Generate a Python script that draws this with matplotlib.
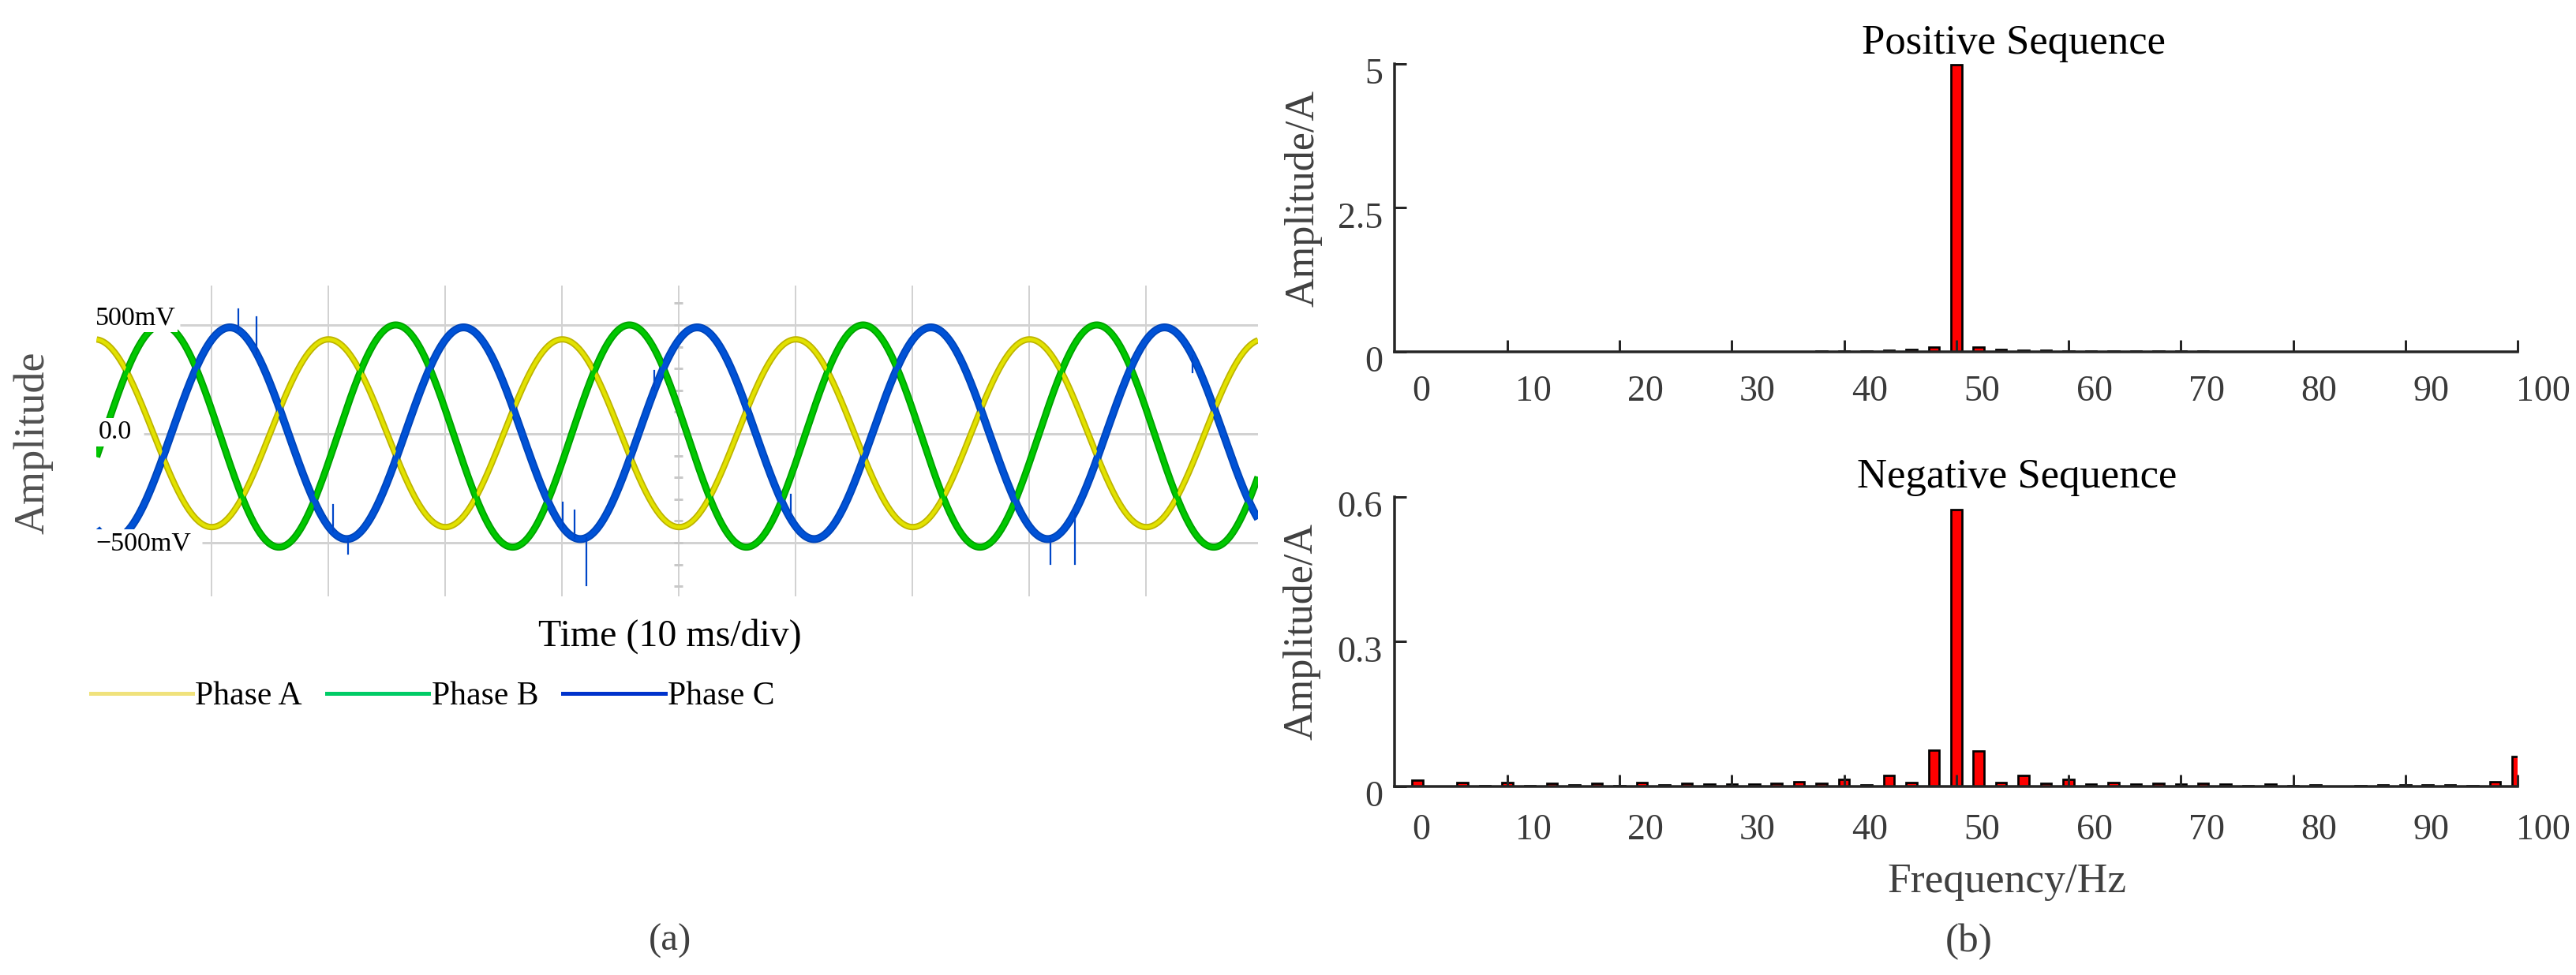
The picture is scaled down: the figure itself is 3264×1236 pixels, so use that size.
import numpy as np
import matplotlib
matplotlib.use('Agg')
import matplotlib.pyplot as plt
from matplotlib.lines import Line2D
from matplotlib import transforms

plt.rcParams['font.family'] = ['Liberation Serif', 'DejaVu Serif']

# ---------------- data: panel (a) oscilloscope traces ----------------
phase_names = ['Phase A', 'Phase B', 'Phase C']
phase_amp_mv = [431, 510, 486]          # peak amplitude
phase_offset_mv = [3, -10, 3]           # small dc offset
phase_peak_ms = [0.05, 5.8, 11.6]       # time of first crest
period_ms = 20.0
time_window_ms = [0.2, 99.6]
volt_window_mv = [-746, 681]
grid_times_ms = [10, 20, 30, 40, 50, 60, 70, 80, 90]
level_mv = [500, 0, -500]
level_labels = ['500mV', '0.0', '\u2212500mV']
level_line_start_ms = [7.3, 4.2, 9.2]
level_label_pos = [(0.1, 532), (0.35, 7), (0.1, -503)]
center_dash_mv = [600, 500, 400, 300, 200, 100, -100, -200, -300, -400, -500, -600, -700]
# visible noise spikes on Phase C (time ms, tip mV)
spike_c_t = [12.3, 13.9, 20.4, 21.7, 40.1, 41.1, 42.1, 47.95, 59.6, 81.85, 83.9, 94.0]
spike_c_tip = [573, 537, -326, -550, -314, -351, -695, 290, -278, -598, -598, 283]

# ---------------- data: panel (b) spectra ----------------
freq_hz = list(range(0, 100, 2))
pos_seq = [0, 0, 0, 0, 0, 0, 0, 0, 0, 0,
           0, 0, 0, 0, 0, 0, 0, 0, 0.013, 0.013,
           0.013, 0.027, 0.041, 0.078, 4.98, 0.078, 0.041, 0.027, 0.02, 0.013,
           0.013, 0.004, 0.013, 0.004, 0.013, 0.013, 0, 0, 0, 0,
           0, 0, 0, 0, 0, 0, 0, 0, 0, 0]
neg_seq = [0.013, 0.0, 0.0081, 0.0022, 0.0081, 0.0016, 0.0065, 0.0038, 0.0065, 0.0022,
           0.0081, 0.0038, 0.0065, 0.0054, 0.0054, 0.0054, 0.0065, 0.0098, 0.0065, 0.0147,
           0.0038, 0.0229, 0.0081, 0.0752, 0.574, 0.0735, 0.0081, 0.0229, 0.0065, 0.0147,
           0.0054, 0.0081, 0.0054, 0.0065, 0.0054, 0.0065, 0.0054, 0.0022, 0.0054, 0.0022,
           0.0038, 0.0, 0.0022, 0.0038, 0.0038, 0.0038, 0.0038, 0.0022, 0.0098, 0.0621]
freq_labels = [0, 10, 20, 30, 40, 50, 60, 70, 80, 90, 100]
freq_tickmarks = [8, 18, 28, 38, 48, 58, 68, 78, 88, 98]
pos_yticks = [0, 2.5, 5]
pos_ylabels = ['0', '2.5', '5']
neg_yticks = [0, 0.3, 0.6]
neg_ylabels = ['0', '0.3', '0.6']

# ---------------- figure ----------------
PX = 0.72  # points per pixel at dpi 100
fig = plt.figure(figsize=(32.64, 12.36), dpi=100)

# ---- panel (a)
ax_w = fig.add_axes([0.03753, 0.38835, 0.45083, 0.31877])
ax_w.set_xlim(*time_window_ms)
ax_w.set_ylim(*volt_window_mv)
for s in ax_w.spines.values():
    s.set_visible(False)
ax_w.set_xticks([])
ax_w.set_yticks([])

grid_c = '#d2d2d2'
for tg in grid_times_ms:
    ax_w.axvline(tg, color=grid_c, lw=2 * PX, zorder=1)
for lv, st in zip(level_mv, level_line_start_ms):
    ax_w.hlines(lv, st, time_window_ms[1], color=grid_c, lw=3 * PX, zorder=1)
for dm in center_dash_mv:
    ax_w.hlines(dm, 50 - 0.36, 50 + 0.36, color='#c8c8c8', lw=3 * PX, zorder=1)

core_cols = ['#E2E200', '#00C800', '#0052D6']
edge_cols = ['#BDB300', '#00A000', '#0044B8']
widths_px = [8, 9, 10]
t = np.linspace(time_window_ms[0], time_window_ms[1], 5000)
for amp, off, pk, cc, ec, w in zip(phase_amp_mv, phase_offset_mv, phase_peak_ms,
                                  core_cols, edge_cols, widths_px):
    v = off + amp * np.cos(2 * np.pi * (t - pk) / period_ms)
    ax_w.plot(t, v, color=ec, lw=w * PX, zorder=3, solid_capstyle='butt')
    ax_w.plot(t, v, color=cc, lw=(w - 3.5) * PX, zorder=3.1, solid_capstyle='butt')

# spikes on phase C
for ts, tip in zip(spike_c_t, spike_c_tip):
    base = phase_offset_mv[2] + phase_amp_mv[2] * np.cos(2 * np.pi * (ts - phase_peak_ms[2]) / period_ms)
    ax_w.plot([ts, ts], [base, tip], color='#0046C8', lw=2.2 * PX, zorder=3.2)

for (lx, ly), lab in zip(level_label_pos, level_labels):
    ax_w.text(lx, ly, lab, ha='left', va='center', fontsize=24.5, color='black', zorder=5,
              bbox=dict(boxstyle='square,pad=0.08', facecolor='white', edgecolor='none'))

fig.text(0.01287, 0.5461, 'Amplitude', rotation=90, ha='center', va='center',
         fontsize=39, color='#505050')
fig.text(0.2601, 0.3471, 'Time (10 ms/div)', ha='center', va='center',
         fontsize=34.5, color='black')

leg_cols = ['#F0E27C', '#00CC66', '#0033CC']
handles = [Line2D([0], [0], color=c, lw=5 * PX) for c in leg_cols]
fig.legend(handles, phase_names, loc='center left', bbox_to_anchor=(0.03523, 0.2856),
           ncol=3, frameon=False, fontsize=30, handlelength=3.1, handletextpad=0.08,
           columnspacing=0.75, borderpad=0, borderaxespad=0)
fig.text(0.2601, 0.0352, '(a)', ha='center', va='center', fontsize=35, color='#404040')

# ---- panel (b)
ax_p = fig.add_axes([0.54136, 0.63940, 0.43597, 0.29506])
ax_n = fig.add_axes([0.54136, 0.19337, 0.43597, 0.29693])

spine_c = '#262626'
lab_c = '#3a3a3a'


def style_bar_axes(ax, vals, yticks, ylabels, ylim, label_y):
    ax.bar(freq_hz, vals, width=0.95, color='#FF0000', edgecolor='black',
           linewidth=2.7 * PX, zorder=1)
    ax.set_xlim(-2.04, 98.0)
    ax.set_ylim(*ylim)
    for side in ['top', 'right']:
        ax.spines[side].set_visible(False)
    for side in ['left', 'bottom']:
        ax.spines[side].set_color(spine_c)
        ax.spines[side].set_linewidth(3.5 * PX)
    ax.set_xticks(freq_tickmarks)
    ax.set_xticklabels([])
    ax.set_yticks(yticks)
    ax.set_yticklabels(ylabels)
    ax.tick_params(axis='both', direction='in', length=15 * PX, width=3 * PX,
                   color=spine_c)
    ax.tick_params(axis='y', pad=15 * PX, labelsize=33, labelcolor=lab_c)
    off = transforms.ScaledTranslation(0, -9 / 100, fig.dpi_scale_trans)
    for lab in ax.get_yticklabels():
        lab.set_transform(lab.get_transform() + off)
    tr = transforms.blended_transform_factory(ax.transData, ax.transAxes)
    for fv in freq_labels:
        ax.text(fv + 0.3, label_y, str(fv), transform=tr, ha='center', va='center',
                fontsize=33, color=lab_c, clip_on=False)


style_bar_axes(ax_p, pos_seq, pos_yticks, pos_ylabels, (0, 5), -0.141)
style_bar_axes(ax_n, neg_seq, neg_yticks, neg_ylabels, (0, 0.6), -0.153)

ax_p.text(0.551, 1.071, 'Positive Sequence', transform=ax_p.transAxes, ha='center',
          va='center', fontsize=38, color='black')
ax_n.text(0.554, 1.068, 'Negative Sequence', transform=ax_n.transAxes, ha='center',
          va='center', fontsize=38, color='black')

fig.text(0.5061, 0.7969, 'Amplitude/A', rotation=90, ha='center', va='center',
         fontsize=37.5, color='#404040')
fig.text(0.5055, 0.352, 'Amplitude/A', rotation=90, ha='center', va='center',
         fontsize=37.5, color='#404040')
fig.text(0.7791, 0.0955, 'Frequency/Hz', ha='center', va='center', fontsize=38.5,
         color='#404040')
fig.text(0.7644, 0.034, '(b)', ha='center', va='center', fontsize=37, color='#404040')

fig.savefig('out.png', dpi=100)
